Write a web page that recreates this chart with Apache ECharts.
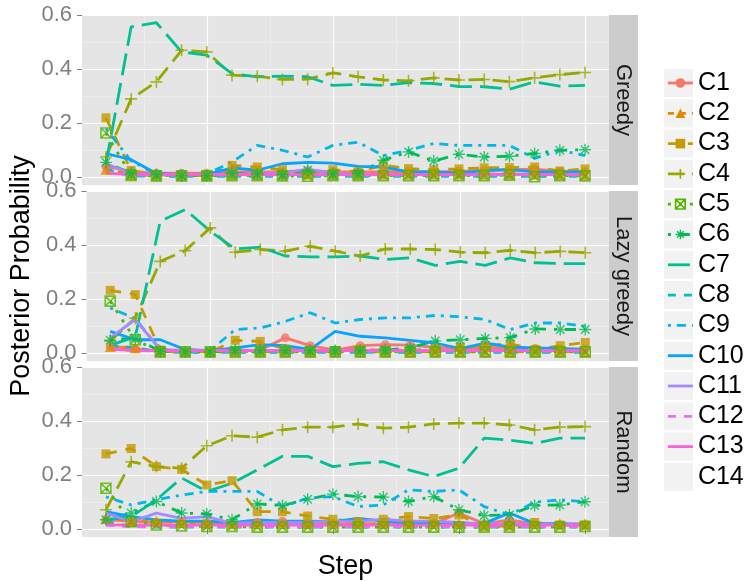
<!DOCTYPE html>
<html><head><meta charset="utf-8">
<script src="https://cdn.jsdelivr.net/npm/echarts@6/dist/echarts.min.js"></script>
<style>html,body{margin:0;padding:0;background:#fff}#c{width:750px;height:581px}</style>
</head><body><div id="c"></div>
<script>
// ---------- data ----------
const steps = [1,2,3,4,5,6,7,8,9,10,11,12,13,14,15,16,17,18,19,20];
const seriesNames = ['C1','C2','C3','C4','C5','C6','C7','C8','C9','C10','C11','C12','C13','C14'];
const panelNames = ['Greedy','Lazy greedy','Random'];
const yTickValues = [0, 0.2, 0.4, 0.6];
const yMinorValues = [0.1, 0.3, 0.5];
const xTickValues = [5, 10, 15, 20];
const xMinorValues = [2.5, 7.5, 12.5, 17.5];

// Greedy
const greedyC1  = [0.04,0.022,0.015,0.015,0.015,0.02,0.02,0.02,0.025,0.02,0.02,0.02,0.022,0.02,0.022,0.025,0.028,0.03,0.022,0.02];
const greedyC2  = [0.03,0.01,0.006,0.006,0.006,0.01,0.01,0.01,0.012,0.01,0.01,0.012,0.012,0.012,0.012,0.012,0.012,0.012,0.01,0.01];
const greedyC3  = [0.22,0.025,0.01,0.006,0.006,0.044,0.038,0.028,0.012,0.028,0.02,0.045,0.032,0.028,0.031,0.035,0.036,0.038,0.023,0.031];
const greedyC4  = [0.075,0.29,0.353,0.47,0.464,0.378,0.374,0.362,0.363,0.386,0.372,0.36,0.357,0.368,0.36,0.362,0.354,0.368,0.38,0.388];
const greedyC5  = [0.164,0.007,0.005,0.005,0.005,0.006,0.006,0.005,0.004,0.006,0.006,0.006,0.006,0.006,0.006,0.006,0.008,0.002,0.006,0.005];
const greedyC6  = [0.055,0.014,0.01,0.006,0.006,0.014,0.012,0.01,0.026,0.012,0.014,0.063,0.094,0.06,0.085,0.075,0.078,0.088,0.1,0.102];
const greedyC7  = [0.05,0.557,0.572,0.464,0.452,0.384,0.372,0.374,0.372,0.34,0.344,0.34,0.35,0.347,0.336,0.335,0.326,0.353,0.337,0.34];
const greedyC8  = [0.03,0.005,0.003,0.003,0.003,0.003,0.003,0.003,0.003,0.003,0.003,0.003,0.003,0.003,0.003,0.003,0.003,0.003,0.003,0.003];
const greedyC9  = [0.18,0.06,0.012,0.01,0.012,0.057,0.118,0.1,0.075,0.118,0.13,0.08,0.1,0.125,0.118,0.118,0.118,0.07,0.1,0.08];
const greedyC10 = [0.088,0.065,0.014,0.01,0.01,0.035,0.026,0.05,0.055,0.052,0.04,0.038,0.02,0.02,0.015,0.025,0.028,0.02,0.02,0.02];
const greedyC11 = [0.05,0.015,0.01,0.01,0.01,0.01,0.012,0.015,0.03,0.015,0.01,0.01,0.01,0.01,0.01,0.01,0.01,0.01,0.01,0.01];
const greedyC12 = [0.02,0.008,0.008,0.008,0.008,0.008,0.008,0.008,0.008,0.008,0.008,0.008,0.008,0.008,0.008,0.008,0.008,0.008,0.008,0.008];
const greedyC13 = [0.015,0.01,0.01,0.01,0.01,0.01,0.01,0.01,0.01,0.01,0.01,0.01,0.01,0.01,0.01,0.012,0.012,0.012,0.01,0.01];
const greedyC14 = [0.005,0.005,0.005,0.005,0.005,0.005,0.005,0.005,0.005,0.005,0.005,0.005,0.005,0.005,0.005,0.005,0.005,0.005,0.005,0.005];

// Lazy greedy
const lazyC1  = [0.026,0.017,0.006,0.006,0.006,0.01,0.012,0.057,0.028,0.012,0.028,0.032,0.03,0.022,0.02,0.02,0.022,0.018,0.015,0.015];
const lazyC2  = [0.025,0.02,0.005,0.005,0.005,0.005,0.005,0.005,0.005,0.005,0.005,0.005,0.005,0.005,0.005,0.005,0.005,0.005,0.005,0.005];
const lazyC3  = [0.233,0.217,0.012,0.005,0.005,0.048,0.044,0.016,0.01,0.01,0.015,0.01,0.012,0.015,0.023,0.028,0.035,0.014,0.028,0.04];
const lazyC4  = [0.045,0.13,0.34,0.38,0.464,0.374,0.384,0.378,0.396,0.378,0.36,0.386,0.386,0.384,0.374,0.372,0.381,0.372,0.377,0.372];
const lazyC5  = [0.193,0.05,0.005,0.005,0.005,0.005,0.005,0.005,0.005,0.005,0.005,0.005,0.005,0.005,0.005,0.005,0.005,0.005,0.005,0.005];
const lazyC6  = [0.048,0.057,0.007,0.005,0.005,0.012,0.01,0.01,0.01,0.01,0.01,0.012,0.02,0.046,0.05,0.055,0.058,0.09,0.088,0.088];
const lazyC7  = [0.03,0.06,0.489,0.532,0.452,0.386,0.393,0.36,0.357,0.357,0.36,0.347,0.353,0.325,0.34,0.325,0.353,0.335,0.332,0.332];
const lazyC8  = [0.03,0.02,0.005,0.003,0.003,0.003,0.003,0.003,0.003,0.003,0.003,0.003,0.003,0.003,0.003,0.003,0.003,0.003,0.003,0.003];
const lazyC9  = [0.168,0.128,0.014,0.01,0.01,0.088,0.094,0.118,0.15,0.112,0.125,0.131,0.131,0.14,0.135,0.125,0.088,0.112,0.112,0.1];
const lazyC10 = [0.081,0.05,0.05,0.014,0.01,0.02,0.032,0.028,0.014,0.081,0.063,0.057,0.048,0.038,0.017,0.038,0.023,0.02,0.017,0.014];
const lazyC11 = [0.057,0.125,0.014,0.01,0.01,0.01,0.01,0.01,0.01,0.01,0.01,0.01,0.01,0.01,0.01,0.01,0.01,0.01,0.01,0.01];
const lazyC12 = [0.015,0.01,0.008,0.008,0.008,0.008,0.008,0.008,0.008,0.008,0.008,0.008,0.008,0.008,0.008,0.008,0.008,0.008,0.008,0.008];
const lazyC13 = [0.015,0.01,0.01,0.01,0.01,0.01,0.01,0.01,0.01,0.01,0.01,0.01,0.01,0.01,0.01,0.01,0.01,0.01,0.01,0.01];
const lazyC14 = [0.005,0.005,0.005,0.005,0.005,0.005,0.005,0.005,0.005,0.005,0.005,0.005,0.005,0.005,0.005,0.005,0.005,0.005,0.005,0.005];

// Random
const randomC1  = [0.035,0.03,0.025,0.028,0.025,0.02,0.025,0.03,0.02,0.02,0.02,0.02,0.02,0.02,0.06,0.02,0.035,0.02,0.015,0.015];
const randomC2  = [0.04,0.03,0.03,0.025,0.02,0.02,0.02,0.02,0.02,0.02,0.02,0.02,0.02,0.02,0.02,0.02,0.02,0.02,0.02,0.02];
const randomC3  = [0.279,0.299,0.232,0.222,0.164,0.18,0.065,0.065,0.049,0.037,0.028,0.037,0.047,0.04,0.053,0.01,0.012,0.025,0.016,0.016];
const randomC4  = [0.072,0.25,0.232,0.226,0.309,0.346,0.341,0.368,0.378,0.378,0.39,0.374,0.378,0.39,0.393,0.393,0.386,0.368,0.378,0.38];
const randomC5  = [0.152,0.028,0.016,0.012,0.01,0.01,0.008,0.008,0.008,0.008,0.008,0.008,0.008,0.008,0.008,0.008,0.008,0.008,0.008,0.01];
const randomC6  = [0.035,0.06,0.103,0.06,0.057,0.035,0.094,0.088,0.111,0.13,0.121,0.119,0.103,0.121,0.072,0.051,0.053,0.088,0.09,0.102];
const randomC7  = [0.035,0.047,0.109,0.19,0.14,0.17,0.22,0.27,0.27,0.232,0.244,0.25,0.22,0.195,0.226,0.337,0.33,0.318,0.337,0.337];
const randomC8  = [0.03,0.01,0.008,0.008,0.008,0.008,0.008,0.008,0.008,0.008,0.008,0.008,0.008,0.008,0.008,0.008,0.008,0.008,0.008,0.008];
const randomC9  = [0.12,0.09,0.109,0.127,0.14,0.14,0.14,0.084,0.115,0.121,0.084,0.09,0.146,0.14,0.146,0.084,0.053,0.1,0.109,0.102];
const randomC10 = [0.065,0.047,0.035,0.03,0.03,0.025,0.035,0.03,0.03,0.028,0.04,0.03,0.025,0.02,0.016,0.022,0.06,0.022,0.022,0.016];
const randomC11 = [0.06,0.028,0.06,0.04,0.047,0.022,0.025,0.025,0.025,0.03,0.03,0.037,0.03,0.03,0.025,0.02,0.02,0.02,0.02,0.02];
const randomC12 = [0.015,0.01,0.01,0.01,0.01,0.01,0.01,0.01,0.01,0.01,0.01,0.01,0.01,0.01,0.01,0.01,0.01,0.01,0.01,0.01];
const randomC13 = [0.016,0.015,0.015,0.015,0.015,0.015,0.015,0.015,0.015,0.015,0.015,0.015,0.015,0.015,0.015,0.015,0.015,0.015,0.015,0.015];
const randomC14 = [0.005,0.005,0.005,0.005,0.005,0.005,0.005,0.005,0.005,0.005,0.005,0.005,0.005,0.005,0.005,0.005,0.005,0.005,0.005,0.005];

const panelData = [
  [greedyC1,greedyC2,greedyC3,greedyC4,greedyC5,greedyC6,greedyC7,greedyC8,greedyC9,greedyC10,greedyC11,greedyC12,greedyC13,greedyC14],
  [lazyC1,lazyC2,lazyC3,lazyC4,lazyC5,lazyC6,lazyC7,lazyC8,lazyC9,lazyC10,lazyC11,lazyC12,lazyC13,lazyC14],
  [randomC1,randomC2,randomC3,randomC4,randomC5,randomC6,randomC7,randomC8,randomC9,randomC10,randomC11,randomC12,randomC13,randomC14]
];

// ---------- styles ----------
const colors = ['#F8766D','#E38900','#C49A00','#99A800','#53B400','#00BC56','#00C094','#00BFC4','#00B6EB','#06A4FF','#A58AFF','#DF70F8','#FB61D7','#FF66A8'];
const dashes = ['solid',[6,6],[11,9],[16,8],[3,8],[3,8,11,8],[22,8],[8,8],[3,6,9,6],'solid','solid',[8,8],'solid','solid'];
const PLUS = 'path://M5,0L5,10M0,5L10,5';
const SQX = 'path://M0,0L10,0L10,10L0,10ZM0,0L10,10M10,0L0,10';
const AST = 'path://M5,0L5,10M0,5L10,5M1.5,1.5L8.5,8.5M8.5,1.5L1.5,8.5';
const markers = [
  {symbol:'circle', size:9, filled:true},
  {symbol:'triangle', size:11, filled:true},
  {symbol:'rect', size:9, filled:true},
  {symbol:PLUS, size:12, filled:false, bw:1.6},
  {symbol:SQX, size:10, filled:false, bw:1.6},
  {symbol:AST, size:12, filled:false, bw:1.4}
];
const FONT = 'Liberation Sans, Arial, Helvetica, sans-serif';
const gridTops = [15, 191, 367];
const gridLeft = 82, gridWidth = 527, gridHeight = 170;
const yMin = -0.0286, yMax = 0.6006, xMin = 0.05, xMax = 20.95;

const grids = [], xAxes = [], yAxes = [], series = [], graphics = [];
panelNames.forEach((pn, p) => {
  grids.push({left:gridLeft, top:gridTops[p], width:gridWidth, height:gridHeight, show:true,
    backgroundColor:'#E5E5E5', borderWidth:0, containLabel:false});
  xAxes.push({gridIndex:p, type:'value', min:xMin, max:xMax, position:'bottom',
    axisLine:{show:false},
    axisTick:{show:p===2, customValues:xTickValues, length:5, lineStyle:{color:'#7F7F7F', width:1}},
    axisLabel:{show:false, customValues:xTickValues},
    splitLine:{show:true, lineStyle:{color:'#FFFFFF', width:1.2}},
    name: p===2 ? 'Step' : '', nameLocation:'middle', nameGap:16,
    nameTextStyle:{fontSize:27, color:'#000', fontFamily:FONT}});
  xAxes.push({gridIndex:p, type:'value', min:xMin, max:xMax, position:'top',
    axisLine:{show:false}, axisTick:{show:false, customValues:xMinorValues},
    axisLabel:{show:false, customValues:xMinorValues},
    splitLine:{show:true, lineStyle:{color:'#F2F2F2', width:0.6}}});
  yAxes.push({gridIndex:p, type:'value', min:yMin, max:yMax, position:'left',
    axisLine:{show:false},
    axisTick:{show:true, customValues:yTickValues, length:5, lineStyle:{color:'#7F7F7F', width:1}},
    axisLabel:{customValues:yTickValues, formatter:v => v.toFixed(1), color:'#7F7F7F', fontSize:22, margin:10, fontFamily:FONT},
    splitLine:{show:true, lineStyle:{color:'#FFFFFF', width:1.2}},
    name: p===1 ? 'Posterior Probability' : '', nameLocation:'middle', nameGap:48,
    nameTextStyle:{fontSize:27, color:'#000', fontFamily:FONT}});
  yAxes.push({gridIndex:p, type:'value', min:yMin, max:yMax, position:'right',
    axisLine:{show:false}, axisTick:{show:false, customValues:yMinorValues},
    axisLabel:{show:false, customValues:yMinorValues},
    splitLine:{show:true, lineStyle:{color:'#F2F2F2', width:0.6}}});

  seriesNames.forEach((sn, s) => {
    const pts = steps.map((x, i) => [x, panelData[p][s][i]]);
    const m = markers[s];
    const col = colors[s];
    const hidden = s === 13;
    series.push({
      name:sn, type:'line', xAxisIndex:2*p, yAxisIndex:2*p, data:pts,
      symbol: m ? m.symbol : 'circle', showSymbol:false, z:2, silent:true,
      lineStyle:{color:col, width: hidden ? 0 : 2.8, type:dashes[s], opacity: hidden ? 0 : 1},
      itemStyle:{color:col}
    });
    if (m) {
      series.push({
        name:sn, type:'scatter', xAxisIndex:2*p, yAxisIndex:2*p, data:pts,
        symbol:m.symbol, symbolSize:m.size, z:3, silent:true,
        itemStyle: m.filled ? {color:col} : {color:'rgba(0,0,0,0)', borderColor:col, borderWidth:m.bw}
      });
    }
  });

  // facet strip
  graphics.push({type:'rect', x:609, y:gridTops[p], shape:{x:0, y:0, width:29, height:gridHeight},
    style:{fill:'#CCCCCC'}, silent:true});
  graphics.push({type:'text', x:623.5, y:gridTops[p] + gridHeight/2, rotation:-Math.PI/2,
    style:{text:pn, fontSize:22, fill:'#1A1A1A', align:'center', verticalAlign:'middle', fontFamily:FONT}, silent:true});
});

// legend key backgrounds
const legendTop = 69, legendStep = 30.3;
seriesNames.forEach((sn, i) => {
  graphics.push({type:'rect', x:664, y:legendTop + i*legendStep, shape:{x:0, y:0, width:29, height:28},
    style:{fill:'#F2F2F2'}, silent:true, z:0});
});

const legendData = seriesNames.map((sn, s) => {
  const m = markers[s];
  const col = colors[s];
  if (s === 13) return {name:sn, itemStyle:{color:'rgba(0,0,0,0)', borderWidth:0}, lineStyle:{width:0}};
  if (!m) return {name:sn, itemStyle:{color:'rgba(0,0,0,0)', borderWidth:0}};
  if (m.filled) return {name:sn, itemStyle:{color:col, borderWidth:0}};
  return {name:sn, itemStyle:{color:'rgba(0,0,0,0)', borderColor:col, borderWidth:m.bw}};
});

const option = {
  animation:false,
  textStyle:{fontFamily:FONT},
  grid:grids, xAxis:xAxes, yAxis:yAxes, series:series,
  legend:{orient:'vertical', left:666.5, top:legendTop, itemWidth:25, itemHeight:12, itemGap:legendStep-28,
    padding:0, selectedMode:false, data:legendData,
    textStyle:{fontSize:25, lineHeight:28, color:'#000', fontFamily:FONT},
    lineStyle:{width:2.8}},
  graphic:{elements:graphics}
};
const chart = echarts.init(document.getElementById('c'), null, {renderer:'canvas'});
chart.setOption(option);
</script>
</body></html>
